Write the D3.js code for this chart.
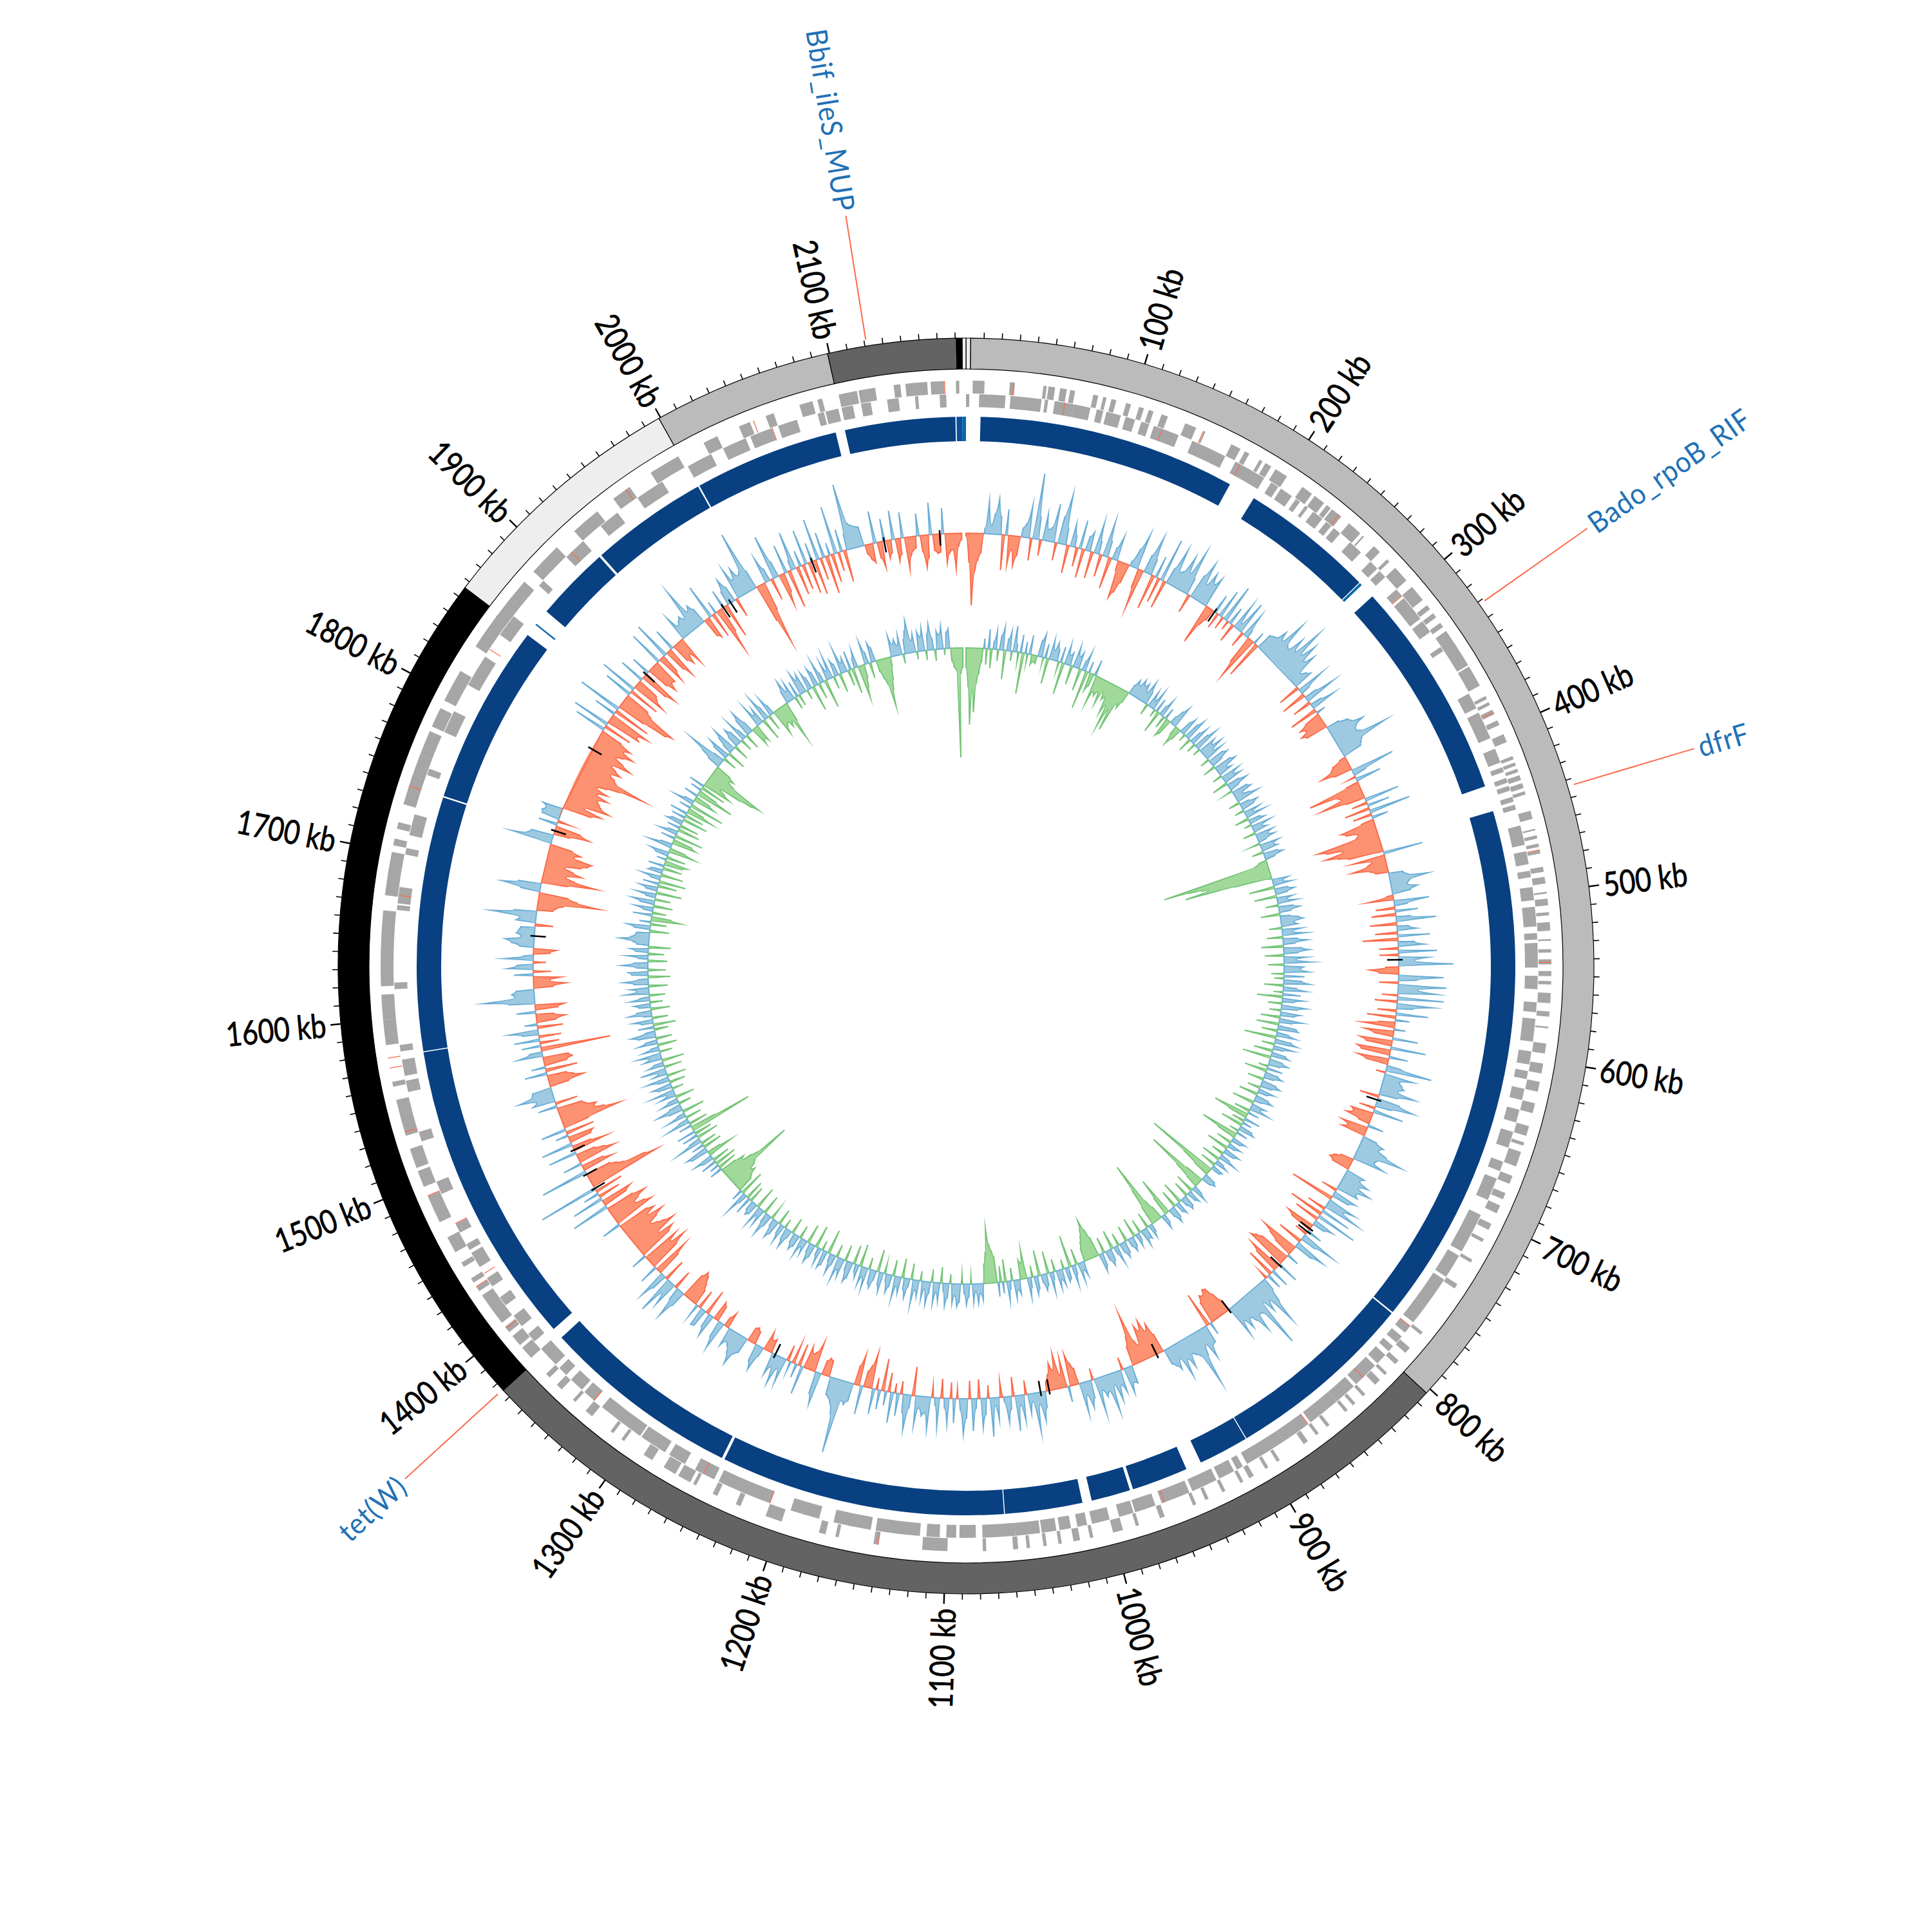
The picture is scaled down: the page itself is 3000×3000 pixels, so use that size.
<!DOCTYPE html>
<html><head><meta charset="utf-8">
<script src="https://cdn.jsdelivr.net/npm/d3@7"></script>
<style>html,body{margin:0;padding:0;background:#fff}svg{display:block}text{font-family:Lato,"Open Sans",sans-serif}</style>
</head><body><div id="chart"></div>
<script>
const genomeKb = 2176;
const binKb = 2.5;
const rowKb = 100;
const majorTicks = [100,200,300,400,500,600,700,800,900,1000,1100,1200,1300,1400,1500,1600,1700,1800,1900,2000,2100];
const tickUnit = "kb";
const contigStart = [0,2.6,803,1375,1856,1999,2099,2170.7,2173.9];
const contigEnd   = [2.6,803,1375,1856,1999,2099,2170.7,2173.9,2176];
const contigFill  = ["#eeeeee","#bbbbbb","#636363","#000000","#eeeeee","#bbbbbb","#636363","#000000","#eeeeee"];
const resistanceNames = ["Bbif_ileS_MUP","Bado_rpoB_RIF","dfrF","tet(W)"];
const resistanceKb = [2121,331.5,443.5,1375.5];
const contigBlueStart = [9.2,191,277,288.4,445,781,903,945,983,1014,1064,1247.5,1382,1578,1741,1864,1875,1924.5,2000.5,2099,2170,2173.8];
const contigBlueEnd   = [173.6,276.4,278.6,428.6,780,902.4,935,981,1008,1063.4,1245.7,1374.7,1577.4,1740,1856,1865,1923,1999.5,2093,2169.3,2173.8,2176];
const contigBlueFill  = ["#084081","#084081","#0868ac","#084081","#084081","#084081","#084081","#084081","#084081","#084081","#084081","#084081","#084081","#084081","#084081","#0868ac","#084081","#084081","#084081","#084081","#08519c","#0868ac"];

const genesForward = [[4,11],[26,29],[46,48],[49,53],[56,60],[62,65],[76,79],[82,84],[87,90],[96,99],[104,107],[110,113],[118,122],[133,140],[145,146],[163,169],[172,175],[182,184],[186,190],[193,201],[212,219],[221,228],[230,233],[234,241],[247,256],[258,259],[267,272],[278,280],[285,295],[300,310],[314,317],[320,323],[327,330],[333,357],[358,371],[378,380],[382,384],[387,390],[394,397],[403,408],[417,419],[421,423],[425,427],[429,432],[434,437],[439,441],[451,456],[462,463],[466,468],[471,473],[475,477],[485,488],[491,495],[500,501],[504,508],[512,514],[518,523],[528,529],[534,536],[540,543],[547,550],[553,555],[560,566],[571,574],[580,581],[590,596],[602,608],[613,619],[626,632],[640,646],[650,652],[656,665],[671,676],[682,686],[690,695],[702,706],[712,714],[726,728],[743,746],[778,780],[790,794],[800,803],[810,812],[816,820],[828,830],[836,838],[842,844],[856,858],[864,866],[872,875],[892,894],[900,902],[910,913],[917,919],[929,931],[940,942],[948,950],[968,971],[984,986],[994,1000],[1012,1014],[1020,1024],[1031,1033],[1040,1042],[1050,1052],[1057,1060],[1076,1078],[1099,1114],[1140,1143],[1164,1166],[1172,1176],[1199,1209],[1225,1228],[1240,1243],[1254,1256],[1258,1266],[1268,1276],[1284,1290],[1304,1306],[1312,1314],[1328,1333],[1341,1343],[1352,1356],[1362,1365],[1378,1386],[1388,1395],[1398,1402],[1405,1425],[1428,1431],[1434,1437],[1445,1448],[1455,1465],[1475,1492],[1498,1508],[1510,1522],[1530,1552],[1560,1563],[1585,1600],[1600,1615],[1620,1632],[1632,1665],[1674,1700],[1704,1708],[1714,1718],[1729,1746],[1745,1760],[1760,1775],[1778,1790],[1795,1815],[1832,1855],[1853,1880],[1888,1898],[1895,1908],[1922,1940],[1952,1964],[1979,1998],[2015,2024],[2038,2045],[2055,2060],[2076,2084],[2087,2090],[2100,2111],[2112,2122],[2133,2137],[2140,2153],[2155,2163],[2170,2172]];
const genesReverse = [[0,2],[8,24],[27,46],[48,50],[54,66],[66,76],[80,84],[86,95],[98,104],[108,113],[116,132],[141,163],[170,190],[195,200],[202,210],[213,216],[220,222],[226,233],[236,240],[242,247],[255,264],[272,278],[280,285],[295,300],[302,318],[320,328],[339,342],[372,382],[385,402],[409,418],[421,424],[428,431],[433,436],[440,443],[445,448],[458,470],[474,482],[486,490],[496,504],[508,520],[524,528],[530,545],[550,558],[566,572],[576,590],[596,604],[608,613],[619,626],[632,640],[646,656],[665,671],[676,690],[700,725],[728,743],[745,765],[765,777],[780,785],[788,793],[796,800],[803,810],[812,828],[830,844],[844,864],[866,884],[884,910],[913,917],[919,929],[931,947],[949,967],[971,984],[985,994],[1000,1011],[1014,1020],[1024,1031],[1033,1042],[1043,1058],[1058,1078],[1082,1092],[1094,1100],[1104,1112],[1116,1143],[1146,1169],[1178,1196],[1209,1243],[1246,1259],[1266,1277],[1280,1297],[1298,1327],[1333,1341],[1343,1352],[1356,1362],[1365,1378],[1384,1390],[1396,1404],[1412,1418],[1426,1432],[1440,1450],[1452,1456],[1464,1470],[1490,1498],[1524,1530],[1555,1562],[1565,1575],[1580,1584],[1618,1622],[1666,1669],[1670,1680],[1700,1704],[1712,1725],[1750,1754],[1778,1792],[1810,1830],[1846,1860],[1884,1888],[1908,1922],[1936,1949],[1964,1982],[2000,2016],[2024,2039],[2042,2056],[2060,2072],[2085,2089],[2090,2098],[2100,2107],[2112,2118],[2128,2135],[2145,2147],[2160,2164]];
const redForwardKb = [27.9,144.4,238.9,388.6,474.6,541.6,1140,1400.6,1431,1492,1532,1571,1577,1740,1961,2047,2163];
const redReverseKb = [60,121,173,300,779.7,822,865.6,965,1209,1253,1333,1435,1470,1674.6,1835,1912,2056];

const markKb = [212,539,653,770,773,808,862,930,1021,1028,1246,1445,1458,1480,1656,1742,1814,1888,1970,1977,2050,2110,2155];

const skewRows = [
[-4,-45,-112,-60,-42,-30,8,50,14,32,55,28,-55,40,-45,-22,-46,-30,14,22,50,-35,102,35,-25,40,18,22,60,-28,42,78,25,-44,35,18,-30,45,-45,22],
[30,-42,48,20,-35,55,25,-50,18,38,-15,-58,-48,-30,8,30,55,-30,-62,28,60,25,-55,35,-40,68,-45,25,60,24,28,55,30,70,26,-30,38,62,28,50],
[35,48,-64,-30,-18,30,-25,45,-20,60,-15,28,-30,42,10,52,-25,38,12,-45,-70,20,-60,25,28,30,45,32,70,34,30,55,35,80,38,62,34,50,18,25],
[30,-35,45,15,-40,20,50,-30,18,40,-45,15,-25,-38,-30,-42,-35,20,34,38,55,40,36,42,83,38,34,30,-10,-25,-30,-49,-28,69,20,-12,40,-20,-84,-40],
[-35,-70,-30,55,-25,35,-40,65,-30,25,-20,-55,-48,-30,-35,-98,-85,-60,-90,-70,-55,62,-50,-22,-30,-55,-28,-20,22,28,60,30,25,40,28,-10,-40,55,20,-30],
[35,-38,22,62,-42,18,30,-35,50,-55,25,40,-30,60,-30,45,24,85,-20,-45,-30,70,28,-30,75,30,60,-25,72,-35,55,25,-30,50,-45,22,-25,-50,18,-45],
[-30,40,-50,-40,55,-52,-45,30,-48,-35,22,72,-15,45,25,30,35,26,55,28,-30,35,60,25,-25,48,-35,-30,-40,-18,25,-42,-30,-38,22,36,30,45,73,35],
[32,50,-20,-30,-35,-28,30,25,42,28,50,30,35,-25,38,28,-70,45,28,56,-30,48,-55,65,-40,32,20,-45,-35,25,-20,55,25,-40,48,30,-60,-45,-30,20],
[-50,-59,-65,35,-55,-40,30,-45,25,-15,20,40,75,30,45,25,100,38,35,62,40,30,45,28,50,-20,-35,-48,-50,-42,-45,-35,20,-55,28,30,50,24,40,86],
[35,30,25,45,28,55,22,38,30,24,-30,-50,-40,-60,-45,-55,-25,-35,-82,-45,-30,28,25,40,-20,35,22,45,18,60,25,32,20,55,-18,28,42,20,48,-25],
[-35,-50,25,-45,-20,-55,-30,-42,-25,-15,25,45,18,60,12,30,-22,40,15,55,-30,20,40,8,-25,35,12,60,-20,25,45,-30,15,50,-28,30,55,18,-15,38],
[-25,40,15,-30,45,12,-18,50,25,30,18,45,-45,20,55,28,-20,35,-15,48,-30,22,-50,30,-18,40,-55,-35,-25,45,-48,-30,28,35,30,115,55,40,32,28],
[-25,-28,-22,50,35,-48,-30,-25,-35,45,-35,22,-30,15,-25,40,18,46,20,35,-22,-18,-30,15,40,28,-20,-25,-22,25,30,50,35,25,20,30,-25,-15,45,28],
[-25,-30,35,22,-40,28,30,-30,20,-25,-35,-45,-50,-40,25,50,20,-30,40,22,60,-35,25,45,-40,-60,30,-50,-70,-45,-60,25,-55,-65,-40,-74,-60,-50,-40,-55],
[-70,-45,-60,-50,30,-65,-55,-40,-50,-65,-45,60,-40,-50,50,-35,25,-45,95,-114,-95,-60,-50,-40,75,-50,-35,30,-60,-45,-30,45,-55,-30,50,-35,-40,20,-45,40],
[-40,-94,-70,-55,-60,-45,-40,30,-35,35,28,55,32,30,-30,-55,-40,-30,35,-50,22,-35,-45,-40,38,20,-109,30,-30,40,-35,25,45,-40,20,-30,-45,-28,30,-35],
[-45,40,78,30,35,28,-30,-50,-25,-42,30,-28,40,25,-20,45,15,-25,-35,22,35,45,20,28,25,22,-28,30,25,70,35,-25,-30,-40,-94,-60,-45,30,60,35],
[-40,-85,-50,-35,-60,-45,-30,-55,-65,-70,-40,-50,-35,65,40,35,-25,-55,-40,30,-20,28,30,25,32,-45,-60,-30,-70,-55,-50,-45,-60,-40,-55,-35,-50,-70,-110,-60],
[-55,-45,-60,-50,-40,-70,-55,-40,-50,-65,-45,-55,-35,50,-45,60,-55,-50,-65,35,-60,70,-45,-85,-94,-50,-40,45,-50,60,-55,-40,-35,40,-45,-60,30,-35,-50,-38],
[-40,55,-45,-30,60,-35,-50,35,-30,-39,-25,-45,40,20,25,30,22,70,28,35,25,-30,-35,55,-40,20,-70,-40,30,-55,22,40,25,-30,50,28,45,30,35,97],
[30,-60,-100,-45,40,20,-35,70,25,-50,-30,45,-60,15,60,-45,25,-40,55,-50,30,-55,65,-35,40,-60,20,-45,75,-30,35,-50,25,103,40,35,32,30,-15,-25],
[-30,50,-25,-40,35,-28,-20,45,-35,-25,40,-50,-30,-22,-18,35,-25,-50,-35,50,-25,-30,-28,40,-45,-30,-25,-55,-20,-10]
];
const gcRows = [
[-30,-60,-119,-65,-100,-55,-40,-22,15,-25,30,-30,12,28,-18,22,35,-45,18,30,-15,40,12,-15,28,-64,18,-12,30,-15,-10,-12,25,35,-8,22,-40,30,15,28],
[18,-12,25,-50,30,15,20,-30,32,18,25,-35,15,30,-60,18,-28,-20,25,-45,-25,-30,-22,-40,-18,-30,-25,-50,-35,-70,-40,-72,-25,-30,-18,15,25,18,30,22],
[28,15,35,20,-18,25,12,30,-12,22,-35,15,28,-20,18,-30,-25,12,25,35,-15,-30,-18,20,28,-12,25,35,-22,18,30,-15,25,38,-12,28,20,35,15,30],
[-15,25,32,18,-20,28,35,15,22,-15,30,18,28,-25,20,32,15,-12,25,30,12,22,35,-18,15,28,20,-15,25,12,30,-22,18,25,-12,30,15,22,-20,28],
[18,28,12,-15,30,20,25,-18,22,30,15,-12,-20,-169,-130,-110,-100,-138,-60,-5,25,15,28,-40,20,30,18,-35,25,15,30,-20,22,32,18,-30,15,28,35,20],
[25,-20,30,15,35,-25,22,38,18,-35,28,40,22,-30,35,18,42,-25,30,25,38,-20,32,-15,28,40,-30,20,35,-15,28,-40,32,18,-22,38,25,-18,30,22],
[-30,35,20,-35,28,32,-25,18,30,-50,25,35,-20,30,15,-30,22,28,-45,20,30,18,-15,25,-35,20,28,15,-25,22,30,18,-20,25,15,-30,20,28,12,-35],
[22,15,30,-25,18,-56,-30,25,-20,15,-35,20,25,-15,18,-59,-30,22,15,-25,20,12,-35,25,18,-20,15,28,-30,12,20,-25,18,15,-113,-50,-25,18,22,15],
[-30,-97,-45,-20,15,25,-30,20,15,-25,18,22,12,-35,20,15,-28,18,25,12,-61,-30,15,22,-20,-35,-103,-60,-30,12,20,-25,18,15,25,-22,12,20,-30,15],
[22,12,-25,18,25,15,-20,28,12,-30,18,25,15,-25,20,28,-30,-45,-62,-48,-38,-30,-20,22,12,28,-25,15,30,-50,18,22,-15,25,15,28,-20,12,30,-35],
[18,25,12,-40,20,28,-18,15,30,-45,-25,-30,22,15,28,-20,12,30,-35,18,-25,22,-40,-50,-60,-85,-48,-30,25,15,30,12,28,-12,20,32,15,-15,28,35],
[18,30,-15,22,35,12,-25,28,15,32,-20,18,35,12,28,-15,25,15,38,-25,12,30,18,-30,25,15,35,-25,18,28,12,-15,30,20,-35,15,28,22,-18,32],
[15,28,-35,20,12,-30,25,32,15,-25,28,18,35,-20,15,30,12,-38,22,28,-15,25,12,-35,20,30,15,-30,22,12,28,-20,18,25,15,-25,12,30,18,-15],
[28,15,-25,22,30,12,-20,18,35,15,-30,25,12,30,-35,18,22,15,-25,28,-30,15,35,-40,18,-25,-30,-40,-35,-45,-50,-114,-60,-50,-35,-40,-25,20,-30,15],
[-35,25,-28,18,30,-40,-22,28,35,-30,20,-25,40,18,-35,25,-28,30,-100,-40,20,-30,35,15,-25,30,12,-35,22,40,18,-20,28,15,-30,25,12,35,-18,22],
[30,-25,18,35,-30,22,12,40,-28,25,15,-35,28,18,35,-20,25,12,-30,30,18,-25,28,38,15,-22,25,-35,18,30,-25,12,35,22,-30,18,25,-20,30,15],
[-25,35,18,28,-30,22,38,15,-35,25,30,-28,18,40,22,-30,15,32,-25,20,28,-35,18,25,45,28,22,20,-30,25,35,-25,18,-45,-30,30,-22,15,28,-30],
[22,35,-25,15,30,-40,18,28,-30,25,-42,15,30,-35,22,18,-30,25,-28,-35,15,-30,20,30,-40,-25,35,18,-38,-30,22,-45,28,15,-35,20,-30,25,18,-40],
[22,-30,28,-42,-25,18,-55,30,15,-35,-25,22,-60,-30,18,-40,25,-45,-35,-25,-60,-80,-91,-40,-28,-35,-25,20,35,61,18,-22,25,35,-30,15,28,40,-25,18],
[30,22,-20,35,15,-25,28,40,18,-30,-22,-28,35,15,25,-35,38,20,-25,30,15,-40,-30,-25,-35,-28,-62,-30,20,35,15,28,-20,25,-18,35,22,30,-15,28],
[18,-40,30,22,-25,35,15,-45,28,12,35,-20,25,18,-30,38,15,22,-25,30,-40,15,28,-51,-35,-20,35,18,-25,30,22,-18,-30,-40,-75,-50,-35,-15,32,18],
[25,15,30,-15,22,35,50,18,28,-12,30,22,35,-15,25,40,18,-18,28,22,35,-10,25,30,-20,-30,-35,-170,-40,-30]
];

const W = 3000, cx = 1500, cy = 1500;
const theta = d3.scaleLinear().domain([0, genomeKb]).range([0, 2*Math.PI]);
const rSkew = d3.scaleLinear().domain([-100,100]).range([572,772]);
const rGc = d3.scaleLinear().domain([-100,100]).range([394,594]);
const svg = d3.select("#chart").append("svg").attr("width",W).attr("height",W).attr("viewBox",`0 0 ${W} ${W}`);
const g = svg.append("g").attr("transform",`translate(${cx},${cy})`);
const arc = d3.arc();
const deg = k => theta(k)*180/Math.PI;

g.append("g").selectAll("path").data(contigStart).join("path")
 .attr("d",(d,i)=>arc({innerRadius:927,outerRadius:975,startAngle:theta(d),endAngle:theta(contigEnd[i])}))
 .attr("fill",(d,i)=>contigFill[i]).attr("stroke","#000").attr("stroke-width",1.2);

const minor = d3.range(10,2171,10).filter(d=>d%100!==0);
function tick(sel,r0,r1,w){sel.attr("x1",d=>r0*Math.sin(theta(d))).attr("y1",d=>-r0*Math.cos(theta(d))).attr("x2",d=>r1*Math.sin(theta(d))).attr("y2",d=>-r1*Math.cos(theta(d))).attr("stroke","#000").attr("stroke-width",w);}
g.append("g").selectAll("line").data(minor).join("line").call(tick,975,984,1.6);
g.append("g").selectAll("line").data(majorTicks).join("line").call(tick,975,991,2.4);
function radialText(sel,r,sx,sy){
 sel.attr("transform",d=>{const a=deg(d.k);return (a<=180?`rotate(${a-90}) translate(${r},0)`:`rotate(${a-90}) translate(${r},0) rotate(180)`)+` scale(${sx},${sy})`;})
  .attr("text-anchor",d=>deg(d.k)<=180?"start":"end").attr("dy","0.36em");
}
g.append("g").selectAll("text").data(majorTicks.map(k=>({k,t:`${k} ${tickUnit}`}))).join("text")
 .call(radialText,998,0.93,1.12).text(d=>d.t).attr("font-size",46).attr("fill","#000").attr("stroke","#000").attr("stroke-width",0.7);

g.append("g").selectAll("line").data(resistanceKb).join("line")
 .attr("x1",d=>985*Math.sin(theta(d))).attr("y1",d=>-985*Math.cos(theta(d)))
 .attr("x2",d=>1180*Math.sin(theta(d))).attr("y2",d=>-1180*Math.cos(theta(d)))
 .attr("stroke","#fb6a4a").attr("stroke-width",2);
g.append("g").selectAll("text").data(resistanceKb.map((k,i)=>({k,t:resistanceNames[i]}))).join("text")
 .call(radialText,1187,1,1.08).text(d=>d.t).attr("font-size",42).attr("letter-spacing",1).attr("fill","#2171b5");

function genes(data,r0,r1,fill){
 g.append("g").selectAll("path").data(data).join("path")
  .attr("d",d=>arc({innerRadius:r0,outerRadius:r1,startAngle:theta(d[0]),endAngle:theta(d[1])})).attr("fill",fill);
}
genes(genesForward,889,909,"#a6a6a6");
genes(genesReverse,868,888,"#a6a6a6");
genes(redForwardKb.map(k=>[k,k+0.5]),889,909,"#fb6a4a");
genes(redReverseKb.map(k=>[k,k+0.5]),868,888,"#fb6a4a");

g.append("g").selectAll("path").data(contigBlueStart).join("path")
 .attr("d",(d,i)=>arc({innerRadius:815,outerRadius:853,startAngle:theta(d),endAngle:theta(contigBlueEnd[i])}))
 .attr("fill",(d,i)=>contigBlueFill[i]);

function seriesPoints(rows){
 const pts=[];
 rows.forEach((row,i)=>row.forEach((v,j)=>pts.push({k:i*rowKb+j*binKb,v})));
 return pts;
}
function runs(pts){
 const out=[];let cur=null;
 pts.forEach((p,i)=>{
  const s=p.v>=0?1:-1;
  if(!cur||cur.s!==s){
   let start=p.k;
   if(cur){const q=pts[i-1];start=q.k+(p.k-q.k)*(-q.v)/(p.v-q.v);cur.pts.push({k:start,v:0});out.push(cur);}
   cur={s,pts:[{k:start,v:0}]};
  }
  cur.pts.push(p);
 });
 if(cur){cur.pts.push({k:cur.pts[cur.pts.length-1].k,v:0});out.push(cur);}
 return out;
}
// Curve factory: each step bends toward whichever end is closer to the track baseline, so peaks stay narrow cusps.
function spikeCurve(base){
 function Spike(ctx){this._c=ctx;}
 Spike.prototype={
  areaStart(){this._a=0;},areaEnd(){this._a=NaN;},
  lineStart(){this._x=this._y=NaN;this._p=0;},
  lineEnd(){if(this._a||(this._a!==0&&this._p===1))this._c.closePath();this._a=1-this._a;},
  point(x,y){
   x=+x;y=+y;
   if(this._p===0){this._p=1;this._a?this._c.lineTo(x,y):this._c.moveTo(x,y);}
   else{
    const r0=Math.hypot(this._x,this._y),r1=Math.hypot(x,y);
    const mx=(this._x+x)/2,my=(this._y+y)/2,rm=Math.hypot(mx,my)||1;
    const rc=Math.abs(r0-base)<Math.abs(r1-base)?r0:r1;
    this._c.quadraticCurveTo(mx*rc/rm,my*rc/rm,x,y);
   }
   this._x=x;this._y=y;
  }
 };
 return ctx=>new Spike(ctx);
}
function track(rows,rs,upLine,upFill,downLine,downFill){
 const data=runs(seriesPoints(rows));
 const curve=spikeCurve(rs(0));
 const area=d3.areaRadial().angle(d=>theta(d.k)).innerRadius(rs(0)).outerRadius(d=>rs(d.v)).curve(curve);
 const line=d3.lineRadial().angle(d=>theta(d.k)).radius(d=>rs(d.v)).curve(curve);
 const t=g.append("g");
 t.selectAll("path.a").data(data).join("path").attr("class","a").attr("d",d=>area(d.pts)).attr("fill",d=>d.s>0?upFill:downFill).attr("stroke","none");
 t.selectAll("path.l").data(data).join("path").attr("class","l").attr("d",d=>line(d.pts)).attr("fill","none").attr("stroke",d=>d.s>0?upLine:downLine).attr("stroke-width",2).attr("stroke-linejoin","miter").attr("stroke-miterlimit",20);
}
track(skewRows,rSkew,"#6baed6","#9ecae1","#fb6a4a","#fc9272");
track(gcRows,rGc,"#6baed6","#9ecae1","#74c476","#a1d99b");

g.append("g").selectAll("line").data(markKb).join("line")
 .attr("x1",d=>rSkew(-18)*Math.sin(theta(d))).attr("y1",d=>-rSkew(-18)*Math.cos(theta(d)))
 .attr("x2",d=>rSkew(6)*Math.sin(theta(d))).attr("y2",d=>-rSkew(6)*Math.cos(theta(d)))
 .attr("stroke","#000").attr("stroke-width",2.5);
</script></body></html>
